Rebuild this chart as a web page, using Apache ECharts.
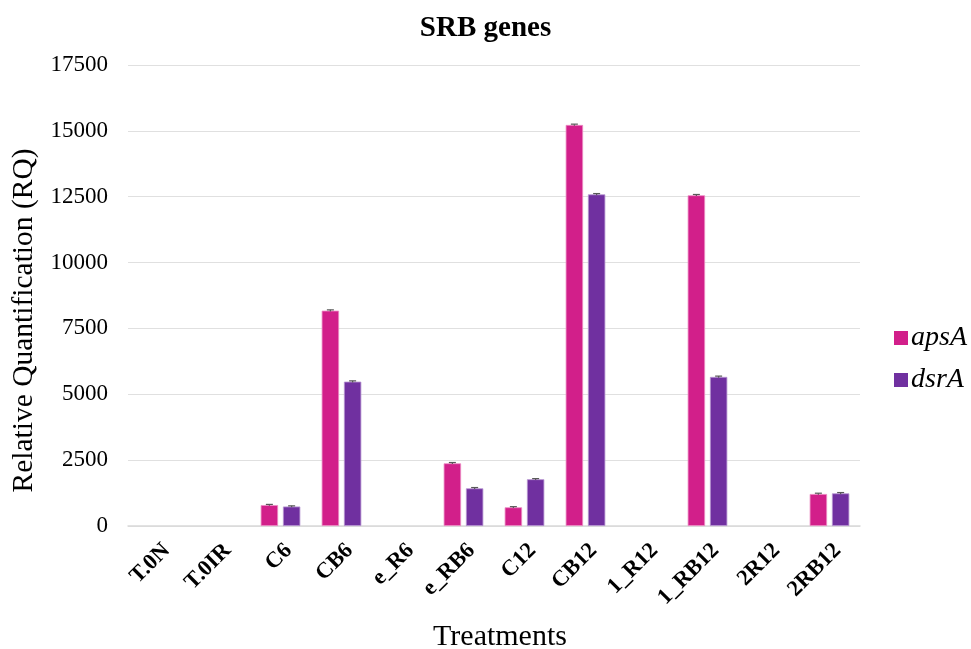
<!DOCTYPE html>
<html>
<head>
<meta charset="utf-8">
<title>SRB genes</title>
<script src="https://cdn.jsdelivr.net/npm/echarts@6/dist/echarts.min.js"></script>
<style>
  html, body { margin: 0; padding: 0; background: #ffffff; }
  #chart { width: 971px; height: 649px; }
</style>
</head>
<body>
<div id="chart"></div>
<script>
// Treatments on the category axis
const categories = ['T.0N', 'T.0IR', 'C6', 'CB6', 'e_R6', 'e_RB6', 'C12', 'CB12', '1_R12', '1_RB12', '2R12', '2RB12'];

// Relative quantification (RQ) per gene; null = not detected
const apsA = [null, null, 795, 8175, null, 2380, 710, 15225, null, 12555, null, 1215];
const dsrA = [null, null, 740, 5480, null, 1430, 1775, 12590, null, 5660, null, 1240];

// Standard error per gene
const apsAErr = [null, null, 25, 30, null, 30, 25, 30, null, 30, null, 30];
const dsrAErr = [null, null, 25, 30, null, 30, 25, 30, null, 30, null, 30];

// Y axis ticks
const yMin = 0;
const yMax = 17500;
const yStep = 2500;

const seriesNames = ['apsA', 'dsrA'];
const seriesColors = ['#D21F8A', '#7030A0'];
const borderColors = ['#EC8CC4', '#B796D2'];

const FONT = "'Liberation Serif', 'Times New Roman', serif";
const BAR_RATIO = 0.285;  // bar width as share of the category band
const GAP_RATIO = 0.28;   // gap between bars as share of bar width

// Error bar drawn as stem + cap, offset to sit over its bar in the group
function errorRenderer(values, errs, index) {
  return function (params, api) {
    const i = api.value(0);
    const v = values[i];
    const e = errs[i];
    if (v == null || e == null) return null;
    const band = api.size([1, 0])[0];
    const w = band * BAR_RATIO;
    const g = w * GAP_RATIO;
    const offset = (index === 0 ? -1 : 1) * (w + g) / 2;
    const top = api.coord([i, v + e]);
    const bot = api.coord([i, v - e]);
    const x = top[0] + offset;
    const half = 3.5;
    const style = { stroke: '#595959', lineWidth: 1.2 };
    return {
      type: 'group',
      children: [
        { type: 'line', shape: { x1: x, y1: top[1], x2: x, y2: bot[1] }, style: style },
        { type: 'line', shape: { x1: x - half, y1: top[1], x2: x + half, y2: top[1] }, style: style }
      ]
    };
  };
}

const chart = echarts.init(document.getElementById('chart'), null, { renderer: 'canvas' });

const barSeries = [apsA, dsrA].map(function (vals, k) {
  return {
    name: seriesNames[k],
    type: 'bar',
    data: vals,
    barWidth: (BAR_RATIO * 100) + '%',
    barGap: (GAP_RATIO * 100) + '%',
    itemStyle: { color: seriesColors[k], borderColor: borderColors[k], borderWidth: 0.8 },
    emphasis: { disabled: true },
    z: 2
  };
});

const errSeries = [[apsA, apsAErr], [dsrA, dsrAErr]].map(function (pair, k) {
  return {
    type: 'custom',
    renderItem: errorRenderer(pair[0], pair[1], k),
    data: categories.map(function (c, i) { return [i, pair[0][i]]; }),
    encode: { x: 0, y: 1 },
    silent: true,
    z: 3
  };
});

chart.setOption({
  animation: false,
  backgroundColor: '#ffffff',
  textStyle: { fontFamily: FONT, color: '#000' },
  title: {
    text: 'SRB genes',
    left: 'center',
    top: 9,
    textStyle: { fontFamily: FONT, fontWeight: 'bold', fontSize: 29, color: '#000' }
  },
  legend: {
    data: seriesNames,
    orient: 'vertical',
    left: 889,
    top: 319,
    itemWidth: 14,
    itemHeight: 14,
    itemGap: 14,
    icon: 'rect',
    itemStyle: { borderWidth: 0 },
    textStyle: { fontFamily: FONT, fontStyle: 'italic', fontSize: 28, color: '#000', padding: [0, 0, 0, -2] }
  },
  grid: { left: 128, right: 111, top: 65, bottom: 123, containLabel: false, outerBoundsMode: 'none' },
  xAxis: {
    type: 'category',
    data: categories,
    name: 'Treatments',
    nameLocation: 'middle',
    nameGap: 96,
    nameTextStyle: { fontFamily: FONT, fontSize: 30, color: '#000', padding: [0, 0, 0, 12] },
    axisLine: { show: true, lineStyle: { color: '#d9d9d9', width: 1.5 } },
    axisTick: { show: false },
    axisLabel: {
      rotate: 45,
      margin: 13,
      interval: 0,
      verticalAlign: 'top',
      fontFamily: FONT,
      fontWeight: 'bold',
      fontSize: 22.5,
      color: '#000'
    }
  },
  yAxis: {
    type: 'value',
    min: yMin,
    max: yMax,
    interval: yStep,
    name: 'Relative Quantification (RQ)',
    nameLocation: 'middle',
    nameGap: 88,
    nameTextStyle: { fontFamily: FONT, fontSize: 29.5, color: '#000', padding: [0, 50, 0, 0] },
    axisLine: { show: false },
    axisTick: { show: false },
    axisLabel: {
      margin: 20,
      fontFamily: FONT,
      fontSize: 23,
      color: '#000',
      formatter: function (v) { return String(v); }
    },
    splitLine: { show: true, lineStyle: { color: '#e0e0e0', width: 1.2 } }
  },
  series: barSeries.concat(errSeries)
});
</script>
</body>
</html>
